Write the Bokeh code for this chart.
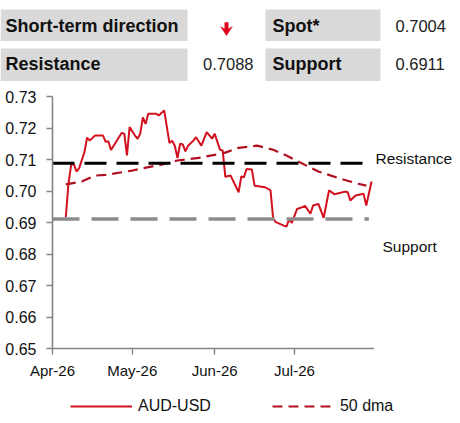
import pandas as pd
from bokeh.plotting import figure
from bokeh.models import (Range1d, FixedTicker, DatetimeTickFormatter, Legend,
                          LegendItem, NumeralTickFormatter)
from bokeh.layouts import row
from bokeh.embed import file_html
from bokeh.resources import INLINE
from bokeh.core.properties import value

# ---------------- data ----------------
spot_dates = [
    "2026-04-06", "2026-04-07", "2026-04-08", "2026-04-09", "2026-04-10", "2026-04-11",
    "2026-04-13", "2026-04-14", "2026-04-15", "2026-04-17", "2026-04-20", "2026-04-21",
    "2026-04-22", "2026-04-23", "2026-04-24", "2026-04-27", "2026-04-28", "2026-04-29",
    "2026-04-30", "2026-05-02", "2026-05-03", "2026-05-04", "2026-05-05", "2026-05-06",
    "2026-05-07", "2026-05-10", "2026-05-11", "2026-05-13", "2026-05-15", "2026-05-16",
    "2026-05-17", "2026-05-18", "2026-05-19", "2026-05-20", "2026-05-21", "2026-05-22",
    "2026-05-24", "2026-05-25", "2026-05-27", "2026-05-29", "2026-05-31", "2026-06-01",
    "2026-06-03", "2026-06-04", "2026-06-05", "2026-06-07", "2026-06-10", "2026-06-11",
    "2026-06-12", "2026-06-13", "2026-06-15", "2026-06-16", "2026-06-20", "2026-06-22",
    "2026-06-23", "2026-06-24", "2026-06-27", "2026-06-28", "2026-06-29", "2026-06-30",
    "2026-07-02", "2026-07-04", "2026-07-05", "2026-07-07", "2026-07-08", "2026-07-10",
    "2026-07-12", "2026-07-14", "2026-07-16", "2026-07-18", "2026-07-20", "2026-07-21",
    "2026-07-22", "2026-07-24", "2026-07-27", "2026-07-28", "2026-07-30",
]
spot_values = [
    0.6917, 0.7023, 0.7082, 0.7086, 0.7062, 0.7072,
    0.7123, 0.7169, 0.7160, 0.7176, 0.7176, 0.7156,
    0.7158, 0.7130, 0.7144, 0.7184, 0.7182, 0.7113,
    0.7203, 0.7176, 0.7166, 0.7182, 0.7234, 0.7213,
    0.7245, 0.7245, 0.7240, 0.7256, 0.7152, 0.7160,
    0.7144, 0.7105, 0.7150, 0.7148, 0.7126, 0.7144,
    0.7160, 0.7171, 0.7144, 0.7187, 0.7166, 0.7182,
    0.7131, 0.7129, 0.7045, 0.7049, 0.6996, 0.7046,
    0.7044, 0.7070, 0.7068, 0.7017, 0.7012, 0.7002,
    0.6912, 0.6901, 0.6890, 0.6887, 0.6910, 0.6899,
    0.6943, 0.6949, 0.6953, 0.6928, 0.6954, 0.6959,
    0.6915, 0.7002, 0.6990, 0.6994, 0.6998, 0.6997,
    0.6970, 0.6986, 0.6991, 0.6954, 0.7030,
]
dma_dates = [
    "2026-04-06", "2026-04-12", "2026-04-17", "2026-04-21", "2026-04-26", "2026-05-01",
    "2026-05-09", "2026-05-12", "2026-05-18", "2026-05-26", "2026-06-01", "2026-06-05",
    "2026-06-10", "2026-06-17", "2026-06-23", "2026-06-28", "2026-07-03", "2026-07-10",
    "2026-07-18", "2026-07-25", "2026-07-28",
]
dma_values = [
    0.7021, 0.7030, 0.7049, 0.7051, 0.7058, 0.7065,
    0.7079, 0.7084, 0.7097, 0.7105, 0.7115, 0.7122,
    0.7137, 0.7144, 0.7131, 0.7113, 0.7091, 0.7062,
    0.7040, 0.7023, 0.7017,
]
resistance = 0.7088
support = 0.6911
level_names = ["Resistance", "Support"]
level_dates = ["2026-04-01", "2026-07-29"]
y_ticks = [0.65, 0.66, 0.67, 0.68, 0.69, 0.70, 0.71, 0.72, 0.73]
month_ticks = ["2026-04-01", "2026-05-01", "2026-06-01", "2026-07-01"]
x_start, x_end = "2026-04-01", "2026-07-31 02:30"

header_labels = ["Short-term direction", "Spot*", "Resistance", "Support"]
spot_text = "0.7004"
resistance_text = "0.7088"
support_text = "0.6911"
direction = "down"

FONT = value("Liberation Sans")
W = 452
SPOT_COLOR = "#d2101e"
DMA_COLOR = "#b00f1f"

# ---------------- header ----------------
head = figure(width=W, height=86, x_range=Range1d(3, 3 + W), y_range=Range1d(86, 0),
              output_backend="svg", toolbar_location=None, min_border=0,
              x_axis_location=None, y_axis_location=None)
head.grid.visible = False
head.outline_line_color = None
head.quad(left=[3, 268, 3, 268], right=[190, 383, 190, 383],
          top=[9, 9, 48, 48], bottom=[40.5, 40.5, 80.5, 80.5],
          fill_color="#d9d9d9", line_color=None)
head.text(x=[8, 275, 8, 275], y=[25, 25, 63, 63], text=header_labels,
          text_font=FONT, text_font_style="bold", text_font_size="18px",
          text_baseline="middle", text_color="#111111")
head.text(x=[398, 398], y=[25, 63], text=[spot_text, support_text],
          text_font=FONT, text_font_size="16.5px", text_baseline="middle",
          text_color="#222222")
head.text(x=[256], y=[63], text=[resistance_text], text_align="right",
          text_font=FONT, text_font_size="16.5px", text_baseline="middle",
          text_color="#222222")
if direction == "down":
    head.patch(x=[227.3, 230.7, 230.7, 234.8, 229, 223.2, 227.3],
               y=[22, 22, 28.5, 26.3, 35, 26.3, 28.5],
               fill_color="#e0001b", line_color="#e0001b", line_width=0.5)

# ---------------- chart ----------------
sx = pd.to_datetime(spot_dates)
dx = pd.to_datetime(dma_dates)
lx = pd.to_datetime(level_dates)

CHART_H = 300
p = figure(width=374, height=CHART_H, x_axis_type="datetime",
           x_range=Range1d(pd.Timestamp(x_start), pd.Timestamp(x_end)),
           y_range=Range1d(0.65, 0.73001),
           output_backend="svg", toolbar_location=None,
           min_border_left=52, min_border_right=0, min_border_top=10,
           min_border_bottom=38)
p.grid.visible = False
p.outline_line_color = None
p.background_fill_color = "white"

p.line(sx, spot_values, line_color=SPOT_COLOR, line_width=2)
p.line(dx, dma_values, line_color=DMA_COLOR, line_width=2.2, line_dash="10 6")
p.line(lx, [resistance, resistance], line_color="black", line_width=3,
       line_dash="22 10")
p.line(lx, [support, support], line_color="#8c8c8c", line_width=3.5,
       line_dash="27 12")

p.yaxis.ticker = FixedTicker(ticks=y_ticks)
p.yaxis.formatter = NumeralTickFormatter(format="0.00")
p.xaxis.ticker = FixedTicker(ticks=[pd.Timestamp(t).value / 1e6 for t in month_ticks])
p.xaxis.formatter = DatetimeTickFormatter(months="%b-%y", days="%b-%y",
                                          years="%b-%y", hours="%b-%y")
for ax in (p.xaxis, p.yaxis):
    ax.axis_line_color = "#858585"
    ax.axis_line_width = 1.6
    ax.major_tick_line_color = "#858585"
    ax.major_tick_line_width = 1.4
    ax.major_tick_out = 6
    ax.major_tick_in = 0
    ax.minor_tick_line_color = None
    ax.major_label_text_font = "Liberation Sans"
    ax.major_label_text_color = "#111111"
p.yaxis.major_label_text_font_size = "16px"
p.xaxis.major_label_text_font_size = "15px"
p.yaxis.major_label_standoff = 10
p.xaxis.major_label_standoff = 7

# ---------------- level labels (right of the plot, same y scale) ----------------
lab = figure(width=W - 374, height=CHART_H, x_range=Range1d(0, W - 374),
             y_range=p.y_range, output_backend="svg", toolbar_location=None,
             min_border_left=0, min_border_right=0, min_border_top=10,
             min_border_bottom=38, x_axis_location=None, y_axis_location=None)
lab.grid.visible = False
lab.outline_line_color = None
lab.text(x=[1, 8], y=[resistance, support], text=level_names,
         y_offset=[-5, 27], text_baseline="middle", text_font=FONT,
         text_font_size="15.5px", text_color="#111111")

# ---------------- legend strip ----------------
leg = figure(width=W, height=29, x_range=Range1d(0, 1), y_range=Range1d(0, 1),
             output_backend="svg", toolbar_location=None, min_border=0,
             x_axis_location=None, y_axis_location=None)
leg.grid.visible = False
leg.outline_line_color = None
l_spot = leg.line(x=[5, 6], y=[5, 6], line_color=SPOT_COLOR, line_width=2)
l_dma = leg.line(x=[5, 6], y=[5, 6], line_color=DMA_COLOR, line_width=2.2,
                 line_dash="10 6")
legend = Legend(items=[LegendItem(label="AUD-USD", renderers=[l_spot]),
                       LegendItem(label="50 dma", renderers=[l_dma])],
                location=(70, 0), orientation="horizontal",
                glyph_width=62, glyph_height=16, label_height=16, label_standoff=6,
                spacing=61, padding=0, margin=0,
                border_line_color=None, background_fill_alpha=0,
                label_text_font="Liberation Sans", label_text_font_size="16px",
                label_text_color="#111111")
leg.add_layout(legend)

open("out.html", "w").write(file_html([head, row(p, lab, spacing=0), leg], INLINE))
